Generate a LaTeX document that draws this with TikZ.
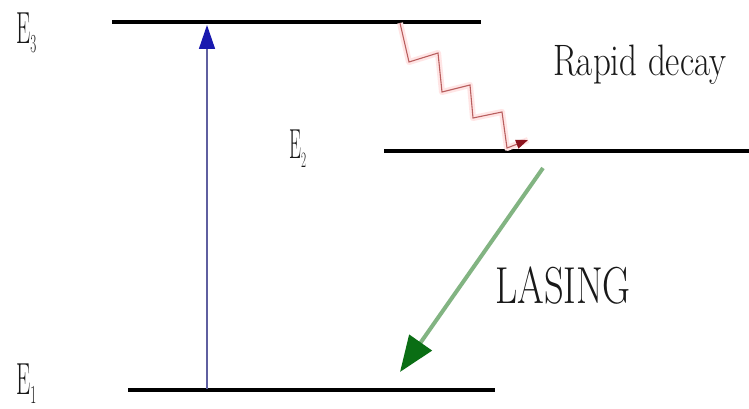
\documentclass[tikz,border=0pt]{standalone}
\usetikzlibrary{arrows.meta}
\definecolor{pumpline}{RGB}{95,95,160}
\definecolor{pumptip}{RGB}{25,25,175}
\definecolor{decayline}{RGB}{185,95,95}
\definecolor{decaytip}{RGB}{140,20,30}
\definecolor{laseline}{RGB}{130,180,130}
\definecolor{lasetip}{RGB}{10,110,20}
\newcommand\sqz[3]{\scalebox{#1}[1]{\fontsize{#2}{#2}\selectfont #3}}
\begin{document}
\begin{tikzpicture}[x=1pt,y=-1pt,
  level/.style={line width=4pt,black},
  lbl/.style={inner sep=0pt,anchor=base west,text=black!90},
  pump/.style={line width=1.5pt,pumpline,-{Triangle[length=24pt,width=16pt,color=pumptip]}},
  decay/.style={line width=1.1pt,decayline,-{Triangle[length=12pt,width=9pt,color=decaytip]}},
  lase/.style={line width=4pt,laseline,-{Triangle[length=36pt,width=27pt,color=lasetip]}}]
\useasboundingbox (0,0) rectangle (749,409);
\fill[white] (0,0) rectangle (749,409);
% energy levels
\coordinate (e3a) at (112,22);  \coordinate (e3b) at (481,22);
\coordinate (e2a) at (384,151); \coordinate (e2b) at (749,151);
\coordinate (e1a) at (128,390); \coordinate (e1b) at (495,390);
\draw[level] (e3a) -- (e3b);
\draw[level] (e2a) -- (e2b);
\draw[level] (e1a) -- (e1b);
% labels
\node[lbl] (e3lbl) at (16,44) {\sqz{0.5}{45}{E}\raisebox{-9pt}{\sqz{0.5}{26}{3}}};
\node[lbl] (e2lbl) at (289,158) {\sqz{0.45}{42}{E}\raisebox{-9pt}{\sqz{0.5}{22}{2}}};
\node[lbl] (e1lbl) at (16,394) {\sqz{0.5}{45}{E}\raisebox{-9pt}{\sqz{0.5}{26}{1}}};
\node[lbl] (rapid) at (553,76) {\sqz{0.795}{44}{Rapid decay}};
\node[lbl] (lasing) at (495,303) {\sqz{0.74}{52}{LASING}};
% pump arrow
\coordinate (pumpS) at (207,389);
\coordinate (pumpE) at (207,25);
\draw[pump] (pumpS) -- (pumpE);
% rapid decay zigzag
\coordinate (zs) at (400,23);
\coordinate (ze) at (528,140);
\draw[red!10,line width=6pt,line join=round] (zs) -- (409,62) -- (438,53) -- (442,92) -- (470,85) -- (473,118) -- (502,112) -- (507,148) -- (ze);
\draw[decay] (zs) -- (409,62) -- (438,53) -- (442,92) -- (470,85) -- (473,118) -- (502,112) -- (507,148) -- (ze);
% lasing arrow
\coordinate (lS) at (543,168);
\coordinate (lE) at (400,372);
\draw[lase] (lS) -- (lE);
\end{tikzpicture}
\end{document}
